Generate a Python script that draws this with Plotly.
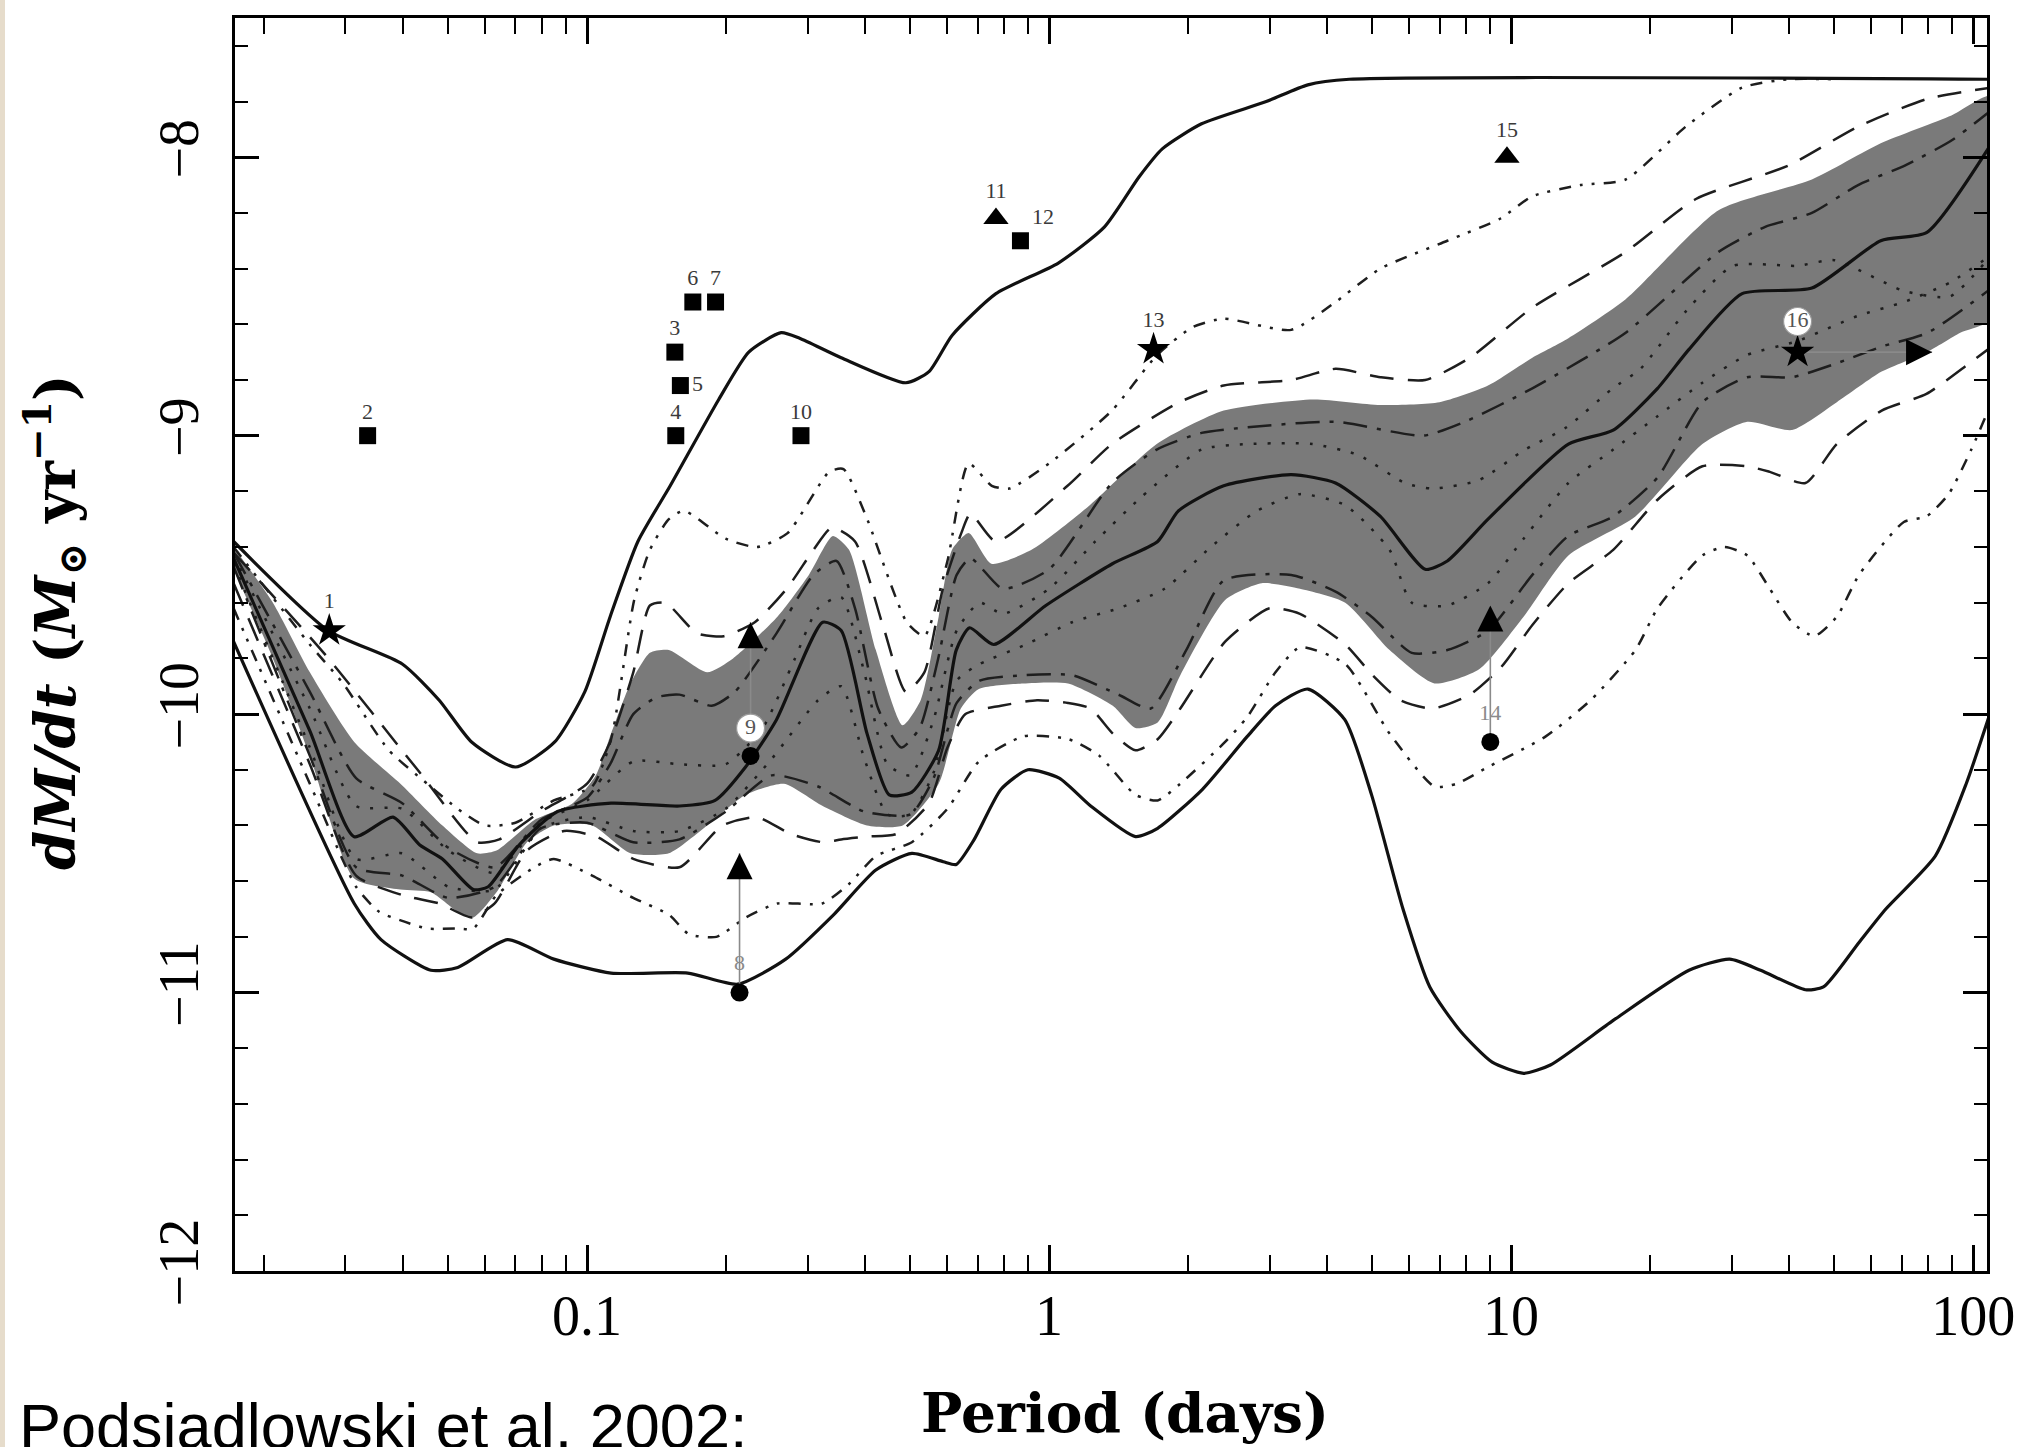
import numpy as np
import plotly.graph_objects as go

# ---------------- data (x values are log10 of period in days) ----------------
logp_upper = [-1.765, -1.56, -1.40, -1.32, -1.25, -1.155, -1.07, -1.005, -0.95, -0.89, -0.82, -0.715,
              -0.65, -0.58, -0.54, -0.45, -0.31, -0.26, -0.21, -0.115, 0.02, 0.12, 0.195, 0.245, 0.33,
              0.47, 0.56, 0.65, 2.04]
mdot_upper = [-9.38, -9.70, -9.82, -9.95, -10.10, -10.19, -10.10, -9.92, -9.65, -9.38, -9.18, -8.87,
              -8.70, -8.63, -8.65, -8.72, -8.81, -8.77, -8.64, -8.49, -8.38, -8.25, -8.07, -7.97, -7.88,
              -7.80, -7.74, -7.72, -7.72]

logp_lower = [-1.765, -1.504, -1.446, -1.338, -1.28, -1.172, -1.072, -0.948, -0.782, -0.674, -0.57,
              -0.466, -0.375, -0.297, -0.229, -0.201, -0.162, -0.104, -0.046, 0.022, 0.09, 0.187, 0.235,
              0.332, 0.429, 0.49, 0.56, 0.64, 0.698, 0.766, 0.824, 0.891, 0.959, 1.027, 1.085, 1.221,
              1.385, 1.473, 1.54, 1.637, 1.676, 1.753, 1.811, 1.918, 1.985, 2.04]
mdot_lower = [-9.74, -10.68, -10.81, -10.92, -10.91, -10.81, -10.88, -10.93, -10.93, -10.97, -10.88,
              -10.72, -10.56, -10.50, -10.53, -10.54, -10.45, -10.27, -10.20, -10.23, -10.33, -10.44, -10.41,
              -10.27, -10.08, -9.97, -9.91, -10.02, -10.29, -10.70, -10.98, -11.14, -11.25, -11.29, -11.26,
              -11.10, -10.92, -10.88, -10.92, -10.99, -10.98, -10.82, -10.70, -10.51, -10.25, -9.98]

logp_median = [-1.765, -1.60, -1.504, -1.42, -1.362, -1.313, -1.246, -1.214, -1.147, -1.064, -0.948,
               -0.80, -0.723, -0.657, -0.59, -0.49, -0.45, -0.394, -0.346, -0.297, -0.239, -0.201, -0.172,
               -0.12, -0.007, 0.137, 0.235, 0.28, 0.378, 0.524, 0.62, 0.717, 0.814, 0.862, 0.95, 1.124,
               1.221, 1.317, 1.385, 1.5, 1.651, 1.80, 1.90, 2.04]
mdot_median = [-9.44, -10.06, -10.44, -10.37, -10.47, -10.52, -10.63, -10.62, -10.47, -10.35, -10.32,
               -10.33, -10.31, -10.19, -10.02, -9.67, -9.70, -10.07, -10.29, -10.28, -10.13, -9.77, -9.69,
               -9.75, -9.61, -9.46, -9.38, -9.27, -9.18, -9.14, -9.17, -9.29, -9.48, -9.45, -9.30, -9.03,
               -8.98, -8.83, -8.69, -8.49, -8.47, -8.30, -8.27, -7.95]

logp_band_hi = [-1.765, -1.68, -1.60, -1.504, -1.404, -1.313, -1.238, -1.196, -1.114, -1.031, -0.981,
                -0.948, -0.906, -0.864, -0.823, -0.74, -0.684, -0.588, -0.52, -0.468, -0.433, -0.375,
                -0.317, -0.278, -0.239, -0.21, -0.174, -0.125, -0.038, 0.088, 0.233, 0.378, 0.572, 0.717,
                0.845, 0.95, 1.046, 1.124, 1.248, 1.449, 1.651, 1.80, 1.953, 2.04]
mdot_band_hi = [-9.40, -9.60, -9.85, -10.10, -10.25, -10.40, -10.50, -10.49, -10.38, -10.32, -10.22,
                -10.07, -9.89, -9.78, -9.77, -9.85, -9.80, -9.65, -9.50, -9.36, -9.41, -9.77,
                -10.04, -9.95, -9.65, -9.41, -9.35, -9.46, -9.41, -9.25, -9.03, -8.91, -8.87, -8.89,
                -8.88, -8.82, -8.72, -8.65, -8.51, -8.19, -8.08, -7.95, -7.85, -7.78]

logp_band_lo = [-1.765, -1.68, -1.60, -1.504, -1.404, -1.338, -1.28, -1.246, -1.196, -1.13, -1.072,
                -0.989, -0.906, -0.823, -0.74, -0.657, -0.574, -0.49, -0.394, -0.317, -0.239, -0.191,
                -0.152, -0.056, 0.041, 0.138, 0.187, 0.235, 0.284, 0.381, 0.46, 0.543, 0.641, 0.737,
                0.834, 0.93, 1.027, 1.124, 1.269, 1.414, 1.511, 1.608, 1.705, 1.802, 1.90, 1.972, 2.04]
mdot_band_lo = [-9.48, -9.80, -10.15, -10.59, -10.63, -10.64, -10.71, -10.73, -10.64, -10.46, -10.40,
                -10.40, -10.50, -10.50, -10.40, -10.29, -10.25, -10.33, -10.40, -10.40, -10.25, -9.98,
                -9.91, -9.89, -9.89, -9.97, -10.05, -10.03, -9.86, -9.59, -9.53, -9.55, -9.60, -9.77,
                -9.89, -9.84, -9.65, -9.43, -9.29, -9.03, -8.95, -8.98, -8.88, -8.77, -8.70, -8.63, -8.58]

# dash-dot-dot, upper (outermost)
logp_u3 = [-1.765, -1.60, -1.528, -1.429, -1.346, -1.28, -1.221, -1.155, -1.072, -0.989, -0.948, -0.898,
           -0.864, -0.823, -0.79, -0.70, -0.632, -0.566, -0.476, -0.445, -0.396, -0.308, -0.27, -0.22,
           -0.174, -0.124, -0.086, 0.0, 0.136, 0.234, 0.311, 0.378, 0.524, 0.62, 0.717, 0.862, 0.977,
           1.046, 1.15, 1.248, 1.378, 1.50, 1.60, 1.70]
mdot_u3 = [-9.40, -9.75, -9.89, -10.13, -10.25, -10.34, -10.40, -10.39, -10.31, -10.26, -10.09, -9.59,
           -9.41, -9.30, -9.27, -9.37, -9.40, -9.35, -9.13, -9.12, -9.29, -9.67, -9.72, -9.45,
           -9.10, -9.18, -9.19, -9.10, -8.91, -8.71, -8.61, -8.58, -8.62, -8.52, -8.40, -8.30, -8.22,
           -8.14, -8.10, -8.08, -7.89, -7.75, -7.72, -7.72]

# dashed, upper
logp_u2 = [-1.765, -1.57, -1.362, -1.238, -1.19, -1.10, -1.0, -0.95, -0.90, -0.864, -0.83, -0.762,
           -0.704, -0.637, -0.568, -0.51, -0.47, -0.42, -0.36, -0.31, -0.27, -0.23, -0.19, -0.17,
           -0.115, 0.04, 0.136, 0.282, 0.378, 0.524, 0.62, 0.717, 0.814, 0.911, 1.046, 1.248, 1.40,
           1.60, 1.751, 1.902, 2.04]
mdot_u2 = [-9.42, -9.78, -10.21, -10.46, -10.45, -10.35, -10.25, -10.10, -9.85, -9.61, -9.60, -9.71,
           -9.72, -9.67, -9.55, -9.41, -9.33, -9.38, -9.68, -9.92, -9.85, -9.55, -9.35, -9.28,
           -9.38, -9.18, -9.03, -8.88, -8.82, -8.80, -8.76, -8.79, -8.80, -8.72, -8.54, -8.34, -8.15,
           -8.03, -7.89, -7.79, -7.75]

# long dash-dot, upper (inside band)
logp_u1 = [-1.765, -1.60, -1.50, -1.40, -1.30, -1.20, -1.10, -1.00, -0.95, -0.90, -0.85, -0.80, -0.73,
           -0.68, -0.59, -0.51, -0.46, -0.42, -0.37, -0.32, -0.28, -0.24, -0.20, -0.17, -0.10, 0.0,
           0.136, 0.233, 0.33, 0.43, 0.62, 0.81, 0.90, 1.046, 1.248, 1.449, 1.55, 1.651, 1.751, 1.852,
           1.953, 2.04]
mdot_u1 = [-9.42, -9.92, -10.23, -10.32, -10.48, -10.55, -10.38, -10.30, -10.18, -10.00, -9.94, -9.93,
           -9.97, -9.92, -9.71, -9.50, -9.45, -9.62, -9.98, -10.12, -10.05, -9.80, -9.50, -9.44, -9.55,
           -9.48, -9.17, -9.05, -8.99, -8.97, -8.95, -9.00, -8.95, -8.83, -8.63, -8.34, -8.25, -8.20,
           -8.10, -8.03, -7.94, -7.83]

# dotted, upper (inside band)
logp_u0 = [-1.765, -1.60, -1.50, -1.40, -1.30, -1.20, -1.10, -1.00, -0.90, -0.80, -0.70, -0.62, -0.55,
           -0.50, -0.45, -0.40, -0.35, -0.30, -0.25, -0.20, -0.15, -0.10, 0.0, 0.10, 0.20, 0.33, 0.43,
           0.57, 0.67, 0.77, 0.83, 0.93, 1.03, 1.12, 1.22, 1.28, 1.38, 1.48, 1.62, 1.70, 1.85, 1.95, 2.04]
mdot_u0 = [-9.43, -9.98, -10.33, -10.34, -10.49, -10.57, -10.39, -10.31, -10.17, -10.18, -10.18, -10.05,
           -9.80, -9.62, -9.58, -9.85, -10.18, -10.22, -10.02, -9.70, -9.60, -9.64, -9.55, -9.38, -9.22,
           -9.05, -9.03, -9.03, -9.07, -9.17, -9.19, -9.16, -9.05, -8.97, -8.83, -8.76, -8.55, -8.39,
           -8.39, -8.37, -8.48, -8.50, -8.35]

# dotted, lower (inside band)
logp_l0 = [-1.765, -1.60, -1.50, -1.40, -1.30, -1.20, -1.10, -1.00, -0.90, -0.80, -0.70, -0.60, -0.50,
           -0.45, -0.40, -0.35, -0.30, -0.25, -0.20, -0.15, -0.05, 0.05, 0.15, 0.25, 0.35, 0.45, 0.543,
           0.641, 0.737, 0.785, 0.862, 0.95, 1.027, 1.124, 1.221, 1.317, 1.414, 1.511, 1.62, 1.75, 1.85,
           1.95, 2.04]
mdot_l0 = [-9.46, -10.12, -10.52, -10.50, -10.62, -10.63, -10.41, -10.37, -10.42, -10.42, -10.34, -10.16,
           -9.95, -9.90, -10.16, -10.36, -10.36, -10.21, -9.88, -9.82, -9.75, -9.67, -9.62, -9.55, -9.40,
           -9.27, -9.21, -9.25, -9.41, -9.60, -9.61, -9.53, -9.37, -9.17, -9.05, -8.93, -8.81, -8.71,
           -8.66, -8.57, -8.52, -8.45, -8.35]

# long dash-dot, lower (inside band)
logp_l1 = [-1.765, -1.60, -1.50, -1.40, -1.30, -1.20, -1.10, -1.00, -0.90, -0.80, -0.70, -0.60, -0.50,
           -0.40, -0.30, -0.25, -0.20, -0.15, -0.05, 0.05, 0.15, 0.22, 0.30, 0.378, 0.524, 0.62, 0.698,
           0.785, 0.862, 0.95, 1.046, 1.124, 1.221, 1.317, 1.414, 1.511, 1.608, 1.705, 1.802, 1.902, 2.04]
mdot_l1 = [-9.47, -10.15, -10.55, -10.58, -10.66, -10.62, -10.41, -10.39, -10.46, -10.45, -10.35, -10.22,
           -10.26, -10.35, -10.36, -10.23, -9.96, -9.88, -9.86, -9.86, -9.93, -9.98, -9.76, -9.52, -9.50,
           -9.56, -9.65, -9.78, -9.77, -9.70, -9.50, -9.36, -9.29, -9.15, -8.88, -8.79, -8.79, -8.74,
           -8.68, -8.63, -8.47]

# dashed, lower
logp_l2 = [-1.765, -1.60, -1.50, -1.40, -1.32, -1.25, -1.20, -1.13, -1.05, -0.98, -0.90, -0.80, -0.707,
           -0.632, -0.56, -0.49, -0.45, -0.394, -0.33, -0.26, -0.22, -0.181, -0.104, -0.026, 0.041, 0.09,
           0.138, 0.187, 0.235, 0.284, 0.381, 0.477, 0.543, 0.641, 0.70, 0.76, 0.83, 0.911, 0.979, 1.046,
           1.124, 1.221, 1.317, 1.414, 1.511, 1.56, 1.637, 1.705, 1.802, 1.899, 1.976, 2.04]
mdot_l2 = [-9.53, -10.18, -10.58, -10.65, -10.68, -10.73, -10.68, -10.49, -10.42, -10.44, -10.52, -10.55,
           -10.40, -10.37, -10.43, -10.46, -10.45, -10.44, -10.43, -10.32, -10.12, -10.00, -9.97, -9.95,
           -9.96, -9.98, -10.07, -10.13, -10.09, -9.98, -9.74, -9.62, -9.64, -9.75, -9.86, -9.95, -9.98,
           -9.93, -9.83, -9.68, -9.53, -9.41, -9.23, -9.11, -9.11, -9.13, -9.17, -9.03, -8.91, -8.85,
           -8.76, -8.68]

# dash-dot-dot, lower (outermost)
logp_l3 = [-1.765, -1.60, -1.50, -1.45, -1.405, -1.346, -1.28, -1.246, -1.196, -1.114, -1.072, -0.989,
           -0.90, -0.823, -0.78, -0.72, -0.656, -0.588, -0.491, -0.433, -0.375, -0.297, -0.22, -0.152,
           -0.056, 0.042, 0.109, 0.187, 0.235, 0.284, 0.381, 0.429, 0.49, 0.543, 0.641, 0.737, 0.834,
           0.882, 0.95, 1.075, 1.172, 1.269, 1.317, 1.414, 1.462, 1.511, 1.56, 1.608, 1.656, 1.705,
           1.753, 1.85, 1.899, 1.947, 1.996, 2.04]
mdot_l3 = [-9.62, -10.25, -10.62, -10.71, -10.74, -10.77, -10.77, -10.77, -10.65, -10.55, -10.52, -10.58,
           -10.66, -10.72, -10.79, -10.80, -10.73, -10.68, -10.68, -10.61, -10.51, -10.46, -10.34, -10.17,
           -10.08, -10.09, -10.15, -10.29, -10.31, -10.25, -10.10, -10.01, -9.85, -9.76, -9.82, -10.07,
           -10.26, -10.25, -10.19, -10.08, -9.95, -9.77, -9.62, -9.43, -9.40, -9.43, -9.55, -9.67, -9.72,
           -9.65, -9.50, -9.31, -9.29, -9.21, -9.05, -8.88]

# observed systems (period in days, log10 dM/dt)
sq_period = [0.0335, 0.1549, 0.1556, 0.1592, 0.1694, 0.1897, 0.2904, 0.867]
sq_mdot = [-9.00, -8.70, -9.00, -8.82, -8.52, -8.52, -9.00, -8.30]
sq_label = ["2", "3", "4", "5", "6", "7", "10", "12"]
sq_pos = ["top center", "top center", "top center", "middle right", "top center", "top center",
          "top center", "top right"]

tri_period = [0.7674, 9.795]
tri_mdot = [-8.22, -8.00]
tri_label = ["11", "15"]

star_period = [0.02767, 1.683]
star_mdot = [-9.70, -8.69]
star_label = ["1", "13"]

# lower limits (filled circles with upward arrows)
lim_period = [0.2138, 0.2259, 9.016]
lim_mdot = [-11.00, -10.15, -10.10]
lim_tip = [-10.50, -9.67, -9.61]
lim_label = ["8", "9", "14"]
lim_label_y = [-10.90, -10.05, -10.00]

# system 16: star with period arrow to the right
s16_period = [41.69]
s16_mdot = [-8.70]
s16_tip_period = [81.5]
s16_label_y = [-8.59]

x_major = [0.1, 1, 10, 100]
x_major_text = ["0.1", "1", "10", "100"]
x_minor = [0.02, 0.03, 0.04, 0.05, 0.06, 0.07, 0.08, 0.09,
           0.2, 0.3, 0.4, 0.5, 0.6, 0.7, 0.8, 0.9,
           2, 3, 4, 5, 6, 7, 8, 9,
           20, 30, 40, 50, 60, 70, 80, 90]
y_major = [-8, -9, -10, -11, -12]
y_minor = [-7.6, -7.8, -8.2, -8.4, -8.6, -8.8, -9.2, -9.4, -9.6, -9.8, -10.2, -10.4, -10.6, -10.8,
           -11.2, -11.4, -11.6, -11.8]


def per(lp):
    return 10 ** np.asarray(lp, dtype=float)


fig = go.Figure()

# shaded band
fig.add_trace(go.Scatter(
    x=np.concatenate([per(logp_band_hi), per(logp_band_lo)[::-1]]),
    y=list(mdot_band_hi) + list(mdot_band_lo)[::-1],
    mode="lines", fill="toself", fillcolor="#7a7a7a",
    line=dict(width=0, shape="spline", smoothing=0.6), hoverinfo="skip"))

DASH = "24px,14px"
DASHDOT = "24px,10px,4px,10px"
DOT = "3px,11px"
DASHDOTDOT = "12px,9px,3px,9px,3px,9px"

patterned = [
    (logp_u3, mdot_u3, DASHDOTDOT),
    (logp_u2, mdot_u2, DASH),
    (logp_u1, mdot_u1, DASHDOT),
    (logp_u0, mdot_u0, DOT),
    (logp_l0, mdot_l0, DOT),
    (logp_l1, mdot_l1, DASHDOT),
    (logp_l2, mdot_l2, DASH),
    (logp_l3, mdot_l3, DASHDOTDOT),
]
for lp, md, dsh in patterned:
    fig.add_trace(go.Scatter(x=per(lp), y=md, mode="lines",
                             line=dict(color="#1e1e1e", width=2.5, dash=dsh, shape="spline", smoothing=0.6),
                             hoverinfo="skip"))

for lp, md in [(logp_upper, mdot_upper), (logp_lower, mdot_lower), (logp_median, mdot_median)]:
    fig.add_trace(go.Scatter(x=per(lp), y=md, mode="lines",
                             line=dict(color="#111111", width=3.2, shape="spline", smoothing=0.6),
                             hoverinfo="skip"))

LABEL_FONT = dict(family="Liberation Serif", size=22, color="#3a3a3a")

# arrows for lower limits (thin grey shafts)
for p, y0, y1 in zip(lim_period, lim_mdot, lim_tip):
    fig.add_trace(go.Scatter(x=[p, p], y=[y0, y1], mode="lines",
                             line=dict(color="#8a8a8a", width=1.6), hoverinfo="skip"))
fig.add_trace(go.Scatter(x=[s16_period[0], s16_tip_period[0]], y=[s16_mdot[0], s16_mdot[0]], mode="lines",
                         line=dict(color="#8a8a8a", width=1.6), hoverinfo="skip"))

# squares
fig.add_trace(go.Scatter(x=sq_period, y=sq_mdot, mode="markers+text", text=sq_label,
                         textposition=sq_pos, textfont=LABEL_FONT,
                         marker=dict(symbol="square", size=17, color="black"), hoverinfo="skip"))
# triangles
fig.add_trace(go.Scatter(x=tri_period, y=tri_mdot, mode="markers+text", text=tri_label,
                         textposition="top center", textfont=LABEL_FONT,
                         marker=dict(symbol="triangle-up", size=22, color="black"), hoverinfo="skip"))
# stars
fig.add_trace(go.Scatter(x=star_period, y=star_mdot, mode="markers+text",
                         text=star_label, textposition="top center", textfont=LABEL_FONT,
                         marker=dict(symbol="star", size=25, color="black"), hoverinfo="skip"))
fig.add_trace(go.Scatter(x=s16_period, y=s16_mdot, mode="markers",
                         marker=dict(symbol="star", size=25, color="black"), hoverinfo="skip"))
# filled circles
fig.add_trace(go.Scatter(x=lim_period, y=lim_mdot, mode="markers",
                         marker=dict(symbol="circle", size=18, color="black"), hoverinfo="skip"))
# arrow heads
fig.add_trace(go.Scatter(x=lim_period, y=lim_tip, mode="markers",
                         marker=dict(symbol="arrow-up", size=26, color="black"), hoverinfo="skip"))
fig.add_trace(go.Scatter(x=s16_tip_period, y=s16_mdot, mode="markers",
                         marker=dict(symbol="arrow-right", size=26, color="black"), hoverinfo="skip"))

# white circular label backgrounds for 9 and 16
fig.add_trace(go.Scatter(x=[lim_period[1], s16_period[0]], y=[lim_label_y[1], s16_label_y[0]],
                         mode="markers+text", text=["9", "16"], textposition="middle center",
                         textfont=dict(family="Liberation Serif", size=22, color="#555555"),
                         marker=dict(symbol="circle", size=28, color="white",
                                     line=dict(color="#9a9a9a", width=1.2)),
                         hoverinfo="skip"))
# grey labels for 8 and 14
fig.add_trace(go.Scatter(x=[lim_period[0], lim_period[2]], y=[lim_label_y[0], lim_label_y[2]],
                         mode="text", text=["8", "14"], textposition="middle center",
                         textfont=dict(family="Liberation Serif", size=22, color="#8a8a8a"),
                         hoverinfo="skip"))

W, H = 2028, 1447
L, R, T, B = 235, 41, 18, 176
pw, ph = W - L - R, H - T - B


def px_x(px):
    return (px - L) / pw


def px_y(py):
    return (H - B - py) / ph


tickfont = dict(family="Liberation Serif", size=56, color="black")
fig.update_xaxes(type="log", range=[-1.762, 2.030], tickvals=x_major, ticktext=x_major_text,
                 ticks="inside", ticklen=26, tickwidth=2.6, tickcolor="black",
                 showline=True, linewidth=3, linecolor="black", mirror="allticks",
                 showgrid=False, zeroline=False, tickfont=tickfont, ticklabelstandoff=-6,
                 minor=dict(tickvals=x_minor, ticks="inside", ticklen=16, tickwidth=2.2,
                            tickcolor="black", showgrid=False))
fig.update_yaxes(range=[-12, -7.5], tickvals=y_major, ticks="inside", ticklen=24, tickwidth=2.6,
                 tickcolor="black", showline=True, linewidth=3, linecolor="black", mirror="allticks",
                 showgrid=False, zeroline=False, tickfont=tickfont, tickangle=-90, ticklabelstandoff=12,
                 minor=dict(tickvals=y_minor, ticks="inside", ticklen=13, tickwidth=2.2,
                            tickcolor="black", showgrid=False))

fig.update_layout(
    width=W, height=H, showlegend=False,
    paper_bgcolor="white", plot_bgcolor="white",
    margin=dict(l=L, r=R, t=T, b=B, autoexpand=False),
    annotations=[
        dict(text="<b>Period (days)</b>", xref="paper", yref="paper", x=px_x(1125), y=px_y(1412),
             xanchor="center", yanchor="middle", showarrow=False,
             font=dict(family="DejaVu Serif", size=55, color="black")),
        dict(text="<b><i>dM/dt</i> (<i>M</i><sub>⊙</sub> yr<sup>−1</sup>)</b>", xref="paper", yref="paper",
             x=px_x(55), y=px_y(622), xanchor="center", yanchor="middle", textangle=-90, showarrow=False,
             font=dict(family="DejaVu Serif", size=56, color="black")),
        dict(text="Podsiadlowski et al. 2002:", xref="paper", yref="paper", x=px_x(17), y=px_y(1426),
             xanchor="left", yanchor="middle", showarrow=False,
             font=dict(family="Liberation Sans", size=63, color="black")),
    ],
    shapes=[dict(type="rect", xref="paper", yref="paper", x0=px_x(0), x1=px_x(5), y0=px_y(H), y1=px_y(0),
                 fillcolor="#e6dccb", line=dict(width=0), layer="below")],
)

fig.write_html("out.html")
